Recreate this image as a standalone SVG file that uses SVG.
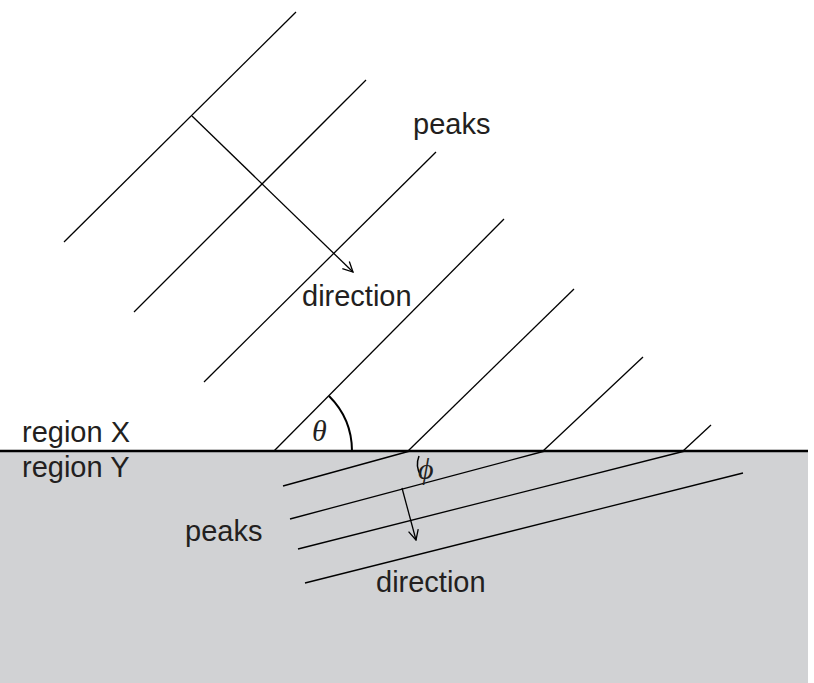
<svg xmlns="http://www.w3.org/2000/svg" width="814" height="683" viewBox="0 0 814 683">
<style>
.l{stroke:#000;stroke-width:1.3;fill:none}
.t{font-family:"Liberation Sans",Arial,sans-serif;font-size:29px;fill:#231f20}
.g{font-family:"Liberation Serif",serif;font-style:italic;font-size:30px;fill:#231f20}
</style>
<defs><marker id="a" markerWidth="12" markerHeight="12" refX="11" refY="6" orient="auto" markerUnits="userSpaceOnUse"><path d="M1,1 L11,6 L1,11" fill="none" stroke="#000" stroke-width="1.3"/></marker></defs>
<rect id="regionY" x="0" y="451" width="808" height="232" fill="#d1d2d4"/>
<g id="connectors">
<line class="l" x1="0" y1="451" x2="808" y2="451" style="stroke-width:2.5"/>
<line class="l" x1="64" y1="242" x2="296" y2="12"/>
<line class="l" x1="134" y1="312" x2="366" y2="80"/>
<line class="l" x1="204" y1="382" x2="436" y2="152"/>
<line class="l" x1="274" y1="451" x2="504" y2="219"/>
<line class="l" x1="408" y1="451" x2="574" y2="289"/>
<line class="l" x1="543" y1="451" x2="643" y2="357"/>
<line class="l" x1="683" y1="451" x2="711" y2="425"/>
<line class="l" x1="192" y1="116" x2="353" y2="272" marker-end="url(#a)"/>
<line class="l" x1="283" y1="486" x2="410" y2="451"/>
<line class="l" x1="290" y1="519" x2="545" y2="451"/>
<line class="l" x1="298" y1="549" x2="685" y2="451"/>
<line class="l" x1="305" y1="583" x2="743" y2="473"/>
<line class="l" x1="402" y1="488" x2="416" y2="540" marker-end="url(#a)"/>
<path class="l" d="M329,396 A78,78 0 0 1 352,451" style="stroke-width:2"/>
<path class="l" d="M419,456 A22,22 0 0 0 421,476" style="stroke-width:1.5"/>
</g>
<g id="labels">
<text class="t" x="413" y="134">peaks</text>
<text class="t" x="302" y="306">direction</text>
<text class="t" x="22" y="442">region X</text>
<text class="t" x="22" y="477">region Y</text>
<text class="t" x="185" y="541">peaks</text>
<text class="t" x="376" y="592">direction</text>
<text class="g" x="312" y="441">θ</text>
<text class="g" x="418" y="479">ϕ</text>
</g>
</svg>
